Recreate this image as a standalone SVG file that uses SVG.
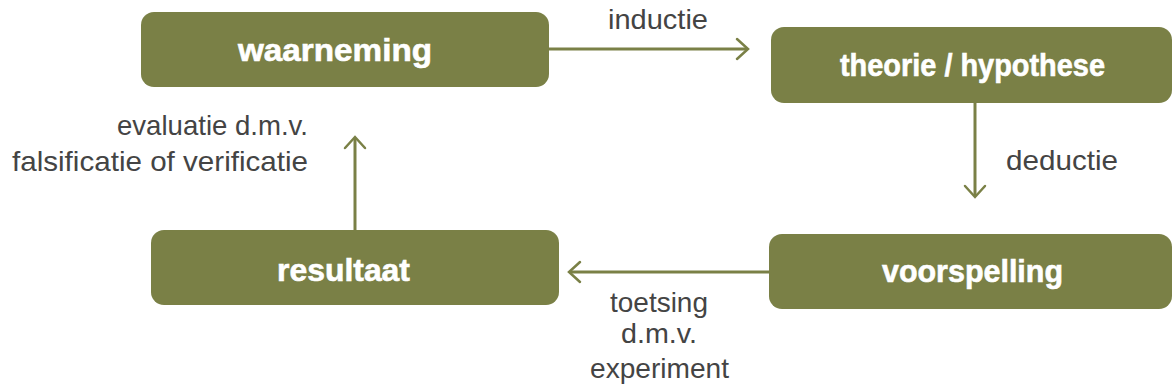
<svg xmlns="http://www.w3.org/2000/svg" width="1172" height="392" viewBox="0 0 1172 392">
  <defs>
    <style>
      .box { fill: #7A8046; }
      .lbl { font-family: "Liberation Sans", Arial, sans-serif; font-weight: bold; font-size: 31px; fill: #FFFFFF; stroke: #FFFFFF; stroke-width: 0.6; }
      .txt { font-family: "Liberation Sans", Arial, sans-serif; font-size: 28px; fill: #444444; }
      .conn { stroke: #7A8046; stroke-width: 3; fill: none; }
      .head { stroke: #7A8046; stroke-width: 2.5; fill: none; stroke-linecap: round; stroke-linejoin: miter; }
    </style>
  </defs>
  <rect width="1172" height="392" fill="#FFFFFF"/>

  <g id="connectors">
    <line class="conn" x1="549" y1="49" x2="747" y2="49"/>
    <polyline class="head" points="737,39 748,49 737,59"/>
    <line class="conn" x1="975" y1="103" x2="975" y2="196"/>
    <polyline class="head" points="965,186 975,197 985,186"/>
    <line class="conn" x1="769" y1="272" x2="570" y2="272"/>
    <polyline class="head" points="580,262 569,272 580,282"/>
    <line class="conn" x1="355" y1="230" x2="355" y2="138"/>
    <polyline class="head" points="345,148 355,137 365,148"/>
    <text class="txt" x="608" y="29" textLength="100" lengthAdjust="spacingAndGlyphs">inductie</text>
    <text class="txt" x="1006" y="170" textLength="112" lengthAdjust="spacingAndGlyphs">deductie</text>
    <text class="txt" x="117" y="135" textLength="191" lengthAdjust="spacingAndGlyphs">evaluatie d.m.v.</text>
    <text class="txt" x="12" y="171" textLength="296" lengthAdjust="spacingAndGlyphs">falsificatie of verificatie</text>
    <text class="txt" x="610" y="312" textLength="98" lengthAdjust="spacingAndGlyphs">toetsing</text>
    <text class="txt" x="621" y="343" textLength="76" lengthAdjust="spacingAndGlyphs">d.m.v.</text>
    <text class="txt" x="590" y="378" textLength="139" lengthAdjust="spacingAndGlyphs">experiment</text>
  </g>

  <g id="waarneming">
    <rect class="box" x="141" y="12" width="408" height="75" rx="13"/>
    <text class="lbl" x="238" y="61" textLength="194" lengthAdjust="spacingAndGlyphs">waarneming</text>
  </g>
  <g id="theorie">
    <rect class="box" x="771" y="27" width="401" height="76" rx="13"/>
    <text class="lbl" x="840" y="76" textLength="265" lengthAdjust="spacingAndGlyphs">theorie / hypothese</text>
  </g>
  <g id="voorspelling">
    <rect class="box" x="769" y="234" width="403" height="75" rx="13"/>
    <text class="lbl" x="882" y="282" textLength="181" lengthAdjust="spacingAndGlyphs">voorspelling</text>
  </g>
  <g id="resultaat">
    <rect class="box" x="151" y="230" width="408" height="75" rx="13"/>
    <text class="lbl" x="277" y="281" textLength="133" lengthAdjust="spacingAndGlyphs">resultaat</text>
  </g>
</svg>
